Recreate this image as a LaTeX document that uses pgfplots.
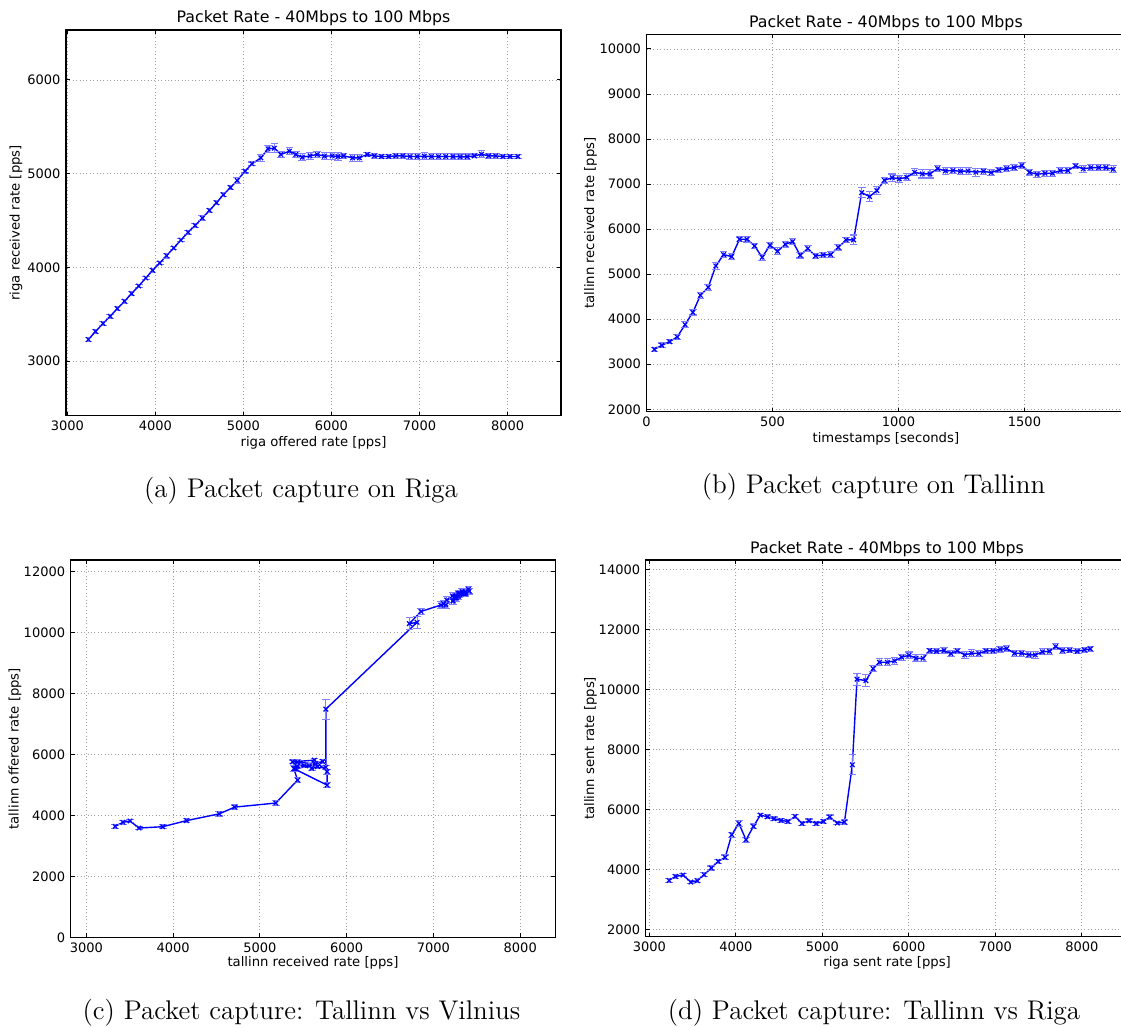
\documentclass[border=0pt]{standalone}
\usepackage{fontspec}
\usepackage{pgfplots}
\usepackage{pgfplotstable}
\pgfplotsset{compat=1.18}
\newfontfamily\dejavu{DejaVu Sans}
\newcommand\tickfont{\dejavu\fontsize{6.5pt}{7.5pt}\selectfont}
\newcommand\labfont{\dejavu\fontsize{6.6pt}{7.6pt}\selectfont}
\newcommand\titfont{\dejavu\fontsize{7.9pt}{9pt}\selectfont}
\newcommand\capfont{\fontsize{13.5pt}{15pt}\selectfont}

% riga offered rate vs riga received rate
\pgfplotstableread{
x y e
3239 3231 20
3320 3316 20
3405 3401 20
3487 3479 20
3568 3561 20
3649 3639 20
3730 3721 20
3811 3802 20
3892 3887 20
3969 3969 20
4050 4047 20
4127 4125 25
4208 4207 20
4290 4292 20
4371 4374 20
4452 4448 20
4533 4526 25
4614 4608 20
4695 4690 20
4772 4775 20
4853 4853 20
4930 4928 30
5019 5027 20
5097 5105 20
5198 5169 35
5279 5265 35
5352 5272 50
5425 5205 35
5522 5240 35
5595 5205 30
5668 5176 40
5757 5190 40
5839 5205 30
5920 5187 40
6009 5190 35
6074 5183 45
6139 5190 30
6240 5169 40
6317 5169 40
6406 5205 25
6487 5190 25
6569 5183 25
6650 5183 25
6731 5190 25
6812 5190 25
6893 5183 30
6974 5183 30
7055 5187 35
7136 5183 35
7217 5183 30
7298 5183 35
7380 5183 30
7461 5180 30
7542 5180 30
7623 5190 20
7704 5208 35
7785 5190 30
7866 5190 25
7947 5183 25
8028 5183 25
8118 5183 25
}\rigatab

% timestamps vs tallinn received rate
\pgfplotstableread{
x y e
31 3332 50
61 3421 50
92 3503 50
122 3606 50
153 3880 60
184 4154 60
214 4531 70
245 4709 70
275 5183 70
306 5434 60
338 5390 70
369 5775 50
399 5775 60
429 5627 50
459 5375 70
490 5642 70
520 5509 80
551 5664 60
580 5723 70
610 5420 60
640 5568 70
671 5405 60
701 5427 60
731 5434 60
761 5597 60
792 5760 50
822 5760 110
854 6811 110
885 6722 110
914 6855 90
944 7085 60
975 7144 80
1003 7115 70
1033 7152 80
1064 7263 80
1094 7226 90
1125 7226 90
1155 7344 60
1186 7292 70
1216 7300 70
1246 7285 80
1276 7292 70
1307 7263 90
1337 7285 70
1368 7255 70
1398 7315 60
1429 7344 60
1459 7366 70
1490 7411 70
1520 7263 60
1550 7218 70
1581 7241 70
1611 7241 70
1642 7300 70
1672 7300 70
1703 7403 60
1733 7337 70
1763 7366 70
1794 7366 60
1823 7366 60
1852 7329 80
}\talltab

% tallinn received rate vs tallinn offered rate
\pgfplotstableread{
x y e
3332 3641 60
3421 3774 60
3503 3819 60
3606 3586 60
3880 3630 60
4154 3830 60
4531 4052 70
4709 4273 70
5183 4407 80
5434 5161 80
5390 5538 90
5775 4994 90
5775 5438 80
5627 5815 60
5375 5760 60
5642 5693 60
5509 5638 60
5664 5604 60
5723 5771 70
5420 5538 60
5568 5627 60
5405 5538 70
5427 5604 60
5434 5749 70
5597 5549 60
5760 5582 70
5760 7490 330
6811 10340 200
6722 10295 200
6855 10695 110
7085 10905 110
7144 10905 110
7115 10950 110
7152 11072 100
7263 11138 110
7226 11039 110
7226 11039 110
7344 11294 80
7292 11272 90
7300 11294 90
7285 11194 100
7292 11283 90
7263 11150 120
7285 11205 110
7255 11194 100
7315 11283 90
7344 11283 90
7366 11338 90
7411 11360 90
7263 11205 100
7218 11205 100
7241 11150 100
7241 11150 110
7300 11250 100
7300 11272 100
7403 11427 100
7337 11294 100
7366 11305 90
7366 11272 90
7366 11316 90
7329 11350 90
}\vilntab

% riga sent rate vs tallinn sent rate
\pgfplotstableread{
x y e
3228 3641 60
3302 3774 60
3389 3819 60
3480 3586 60
3555 3630 60
3633 3830 60
3716 4052 70
3795 4273 70
3877 4407 80
3952 5161 80
4035 5538 90
4118 4994 90
4204 5438 80
4283 5815 60
4366 5760 60
4441 5693 60
4523 5638 60
4602 5604 60
4685 5771 70
4764 5538 60
4846 5627 60
4929 5538 70
5012 5604 60
5086 5749 70
5173 5549 60
5256 5582 70
5347 7490 330
5401 10340 200
5504 10295 200
5587 10695 110
5661 10905 110
5752 10905 110
5835 10950 110
5918 11072 100
6001 11138 110
6083 11039 110
6165 11039 110
6241 11294 80
6320 11272 90
6407 11294 90
6486 11194 100
6560 11283 90
6647 11150 120
6726 11205 110
6809 11194 100
6891 11283 90
6974 11283 90
7056 11338 90
7131 11360 90
7222 11205 100
7305 11205 100
7388 11150 100
7462 11150 110
7545 11250 100
7627 11272 100
7698 11427 100
7777 11294 100
7860 11305 90
7947 11272 90
8030 11316 90
8100 11350 90
}\rigtab

\pgfplotsset{
  mpl/.style={
    scale only axis,
    axis line style={line width=0.6pt},
    tick align=inside,
    major tick length=2pt,
    tick style={black, line width=0.5pt},
    grid=major,
    grid style={gray!75, line width=0.45pt, dash pattern=on 0.5pt off 1.2pt},
    ticklabel style={font=\tickfont},
    /pgf/number format/assume math mode=true,
    /pgf/number format/1000 sep={},
    scaled ticks=false,
    xticklabel style={inner sep=0pt, yshift=-2.5pt},
    yticklabel style={inner sep=0pt, xshift=-2.6pt},
    label style={font=\labfont},
    title style={font=\titfont, at={(0.5,1)}, anchor=base, inner sep=0pt, yshift=-2.3pt},
  },
  mplline/.style={
    blue, line width=0.7pt, mark=x, mark size=1.6pt,
    mark options={solid, line width=0.6pt},
    error bars/.cd, y dir=both, y explicit,
    error bar style={blue!50, line width=0.55pt},
    error mark options={rotate=90, blue!50, line width=0.55pt, mark size=1.9pt},
  },
}

\begin{document}
\begin{tikzpicture}

% (a)
\begin{axis}[mpl,
  at={(33pt,306.15pt)}, anchor=south west,
  width=247.5pt, height=192.85pt,
  xmin=2985, xmax=8607, ymin=2418, ymax=6533,
  xtick={3000,4000,5000,6000,7000,8000},
  ytick={3000,4000,5000,6000},
  title={Packet Rate - 40Mbps to 100 Mbps},
  xlabel={riga offered rate [pps]},
  ylabel={riga received rate [pps]},
  xlabel style={at={(axis description cs:0.5,-0.0716)}, anchor=center},
  ylabel style={at={(axis description cs:-0.101,0.5)}, anchor=center},
]
\addplot+[mplline] table[x=x, y=y, y error=e] {\rigatab};
\end{axis}

% (b)
\begin{axis}[mpl,
  at={(323.25pt,308.15pt)}, anchor=south west,
  width=239.4pt, height=188.7pt,
  xmin=0, xmax=1900, ymin=1947, ymax=10326,
  xtick={0,500,1000,1500},
  ytick={2000,3000,4000,5000,6000,7000,8000,9000,10000},
  title={Packet Rate - 40Mbps to 100 Mbps},
  title style={yshift=-0.2pt},
  xlabel={timestamps [seconds]},
  ylabel={tallinn received rate [pps]},
  xlabel style={at={(axis description cs:0.5,-0.072)}, anchor=center},
  ylabel style={at={(axis description cs:-0.117,0.5)}, anchor=center},
]
\addplot+[mplline] table[x=x, y=y, y error=e] {\talltab};
\end{axis}

% (c)
\begin{axis}[mpl,
  at={(35.35pt,45.35pt)}, anchor=south west,
  width=242.3pt, height=188.65pt,
  xmin=2819, xmax=8404, ymin=0, ymax=12385,
  xtick={3000,4000,5000,6000,7000,8000},
  ytick={0,2000,4000,6000,8000,10000,12000},
  xlabel={tallinn received rate [pps]},
  ylabel={tallinn offered rate [pps]},
  xlabel style={at={(axis description cs:0.5,-0.068)}, anchor=center},
  ylabel style={at={(axis description cs:-0.115,0.5)}, anchor=center},
]
\addplot+[mplline] table[x=x, y=y, y error=e] {\vilntab};
\end{axis}

% (d)
\begin{axis}[mpl,
  at={(322.85pt,45.65pt)}, anchor=south west,
  width=241.4pt, height=188.35pt,
  xmin=2958, xmax=8540, ymin=1767, ymax=14310,
  xtick={3000,4000,5000,6000,7000,8000},
  ytick={2000,4000,6000,8000,10000,12000,14000},
  title={Packet Rate - 40Mbps to 100 Mbps},
  title style={yshift=-0.3pt},
  xlabel={riga sent rate [pps]},
  ylabel={tallinn sent rate [pps]},
  xlabel style={at={(axis description cs:0.5,-0.070)}, anchor=center},
  ylabel style={at={(axis description cs:-0.1145,0.5)}, anchor=center},
]
\addplot+[mplline] table[x=x, y=y, y error=e] {\rigtab};
\end{axis}

\node[font=\capfont, anchor=center] at (150.5pt,268.5pt) {(a) Packet capture on Riga};
\node[font=\capfont, anchor=center] at (436.75pt,270.5pt) {(b) Packet capture on Tallinn};
\node[font=\capfont, anchor=center] at (150.75pt,7.5pt) {(c) Packet capture: Tallinn vs Vilnius};
\node[font=\capfont, anchor=center] at (437pt,7.5pt) {(d) Packet capture: Tallinn vs Riga};

\pgfresetboundingbox
\path[use as bounding box] (0pt,0pt) rectangle (560.5pt,514pt);
\end{tikzpicture}
\end{document}
